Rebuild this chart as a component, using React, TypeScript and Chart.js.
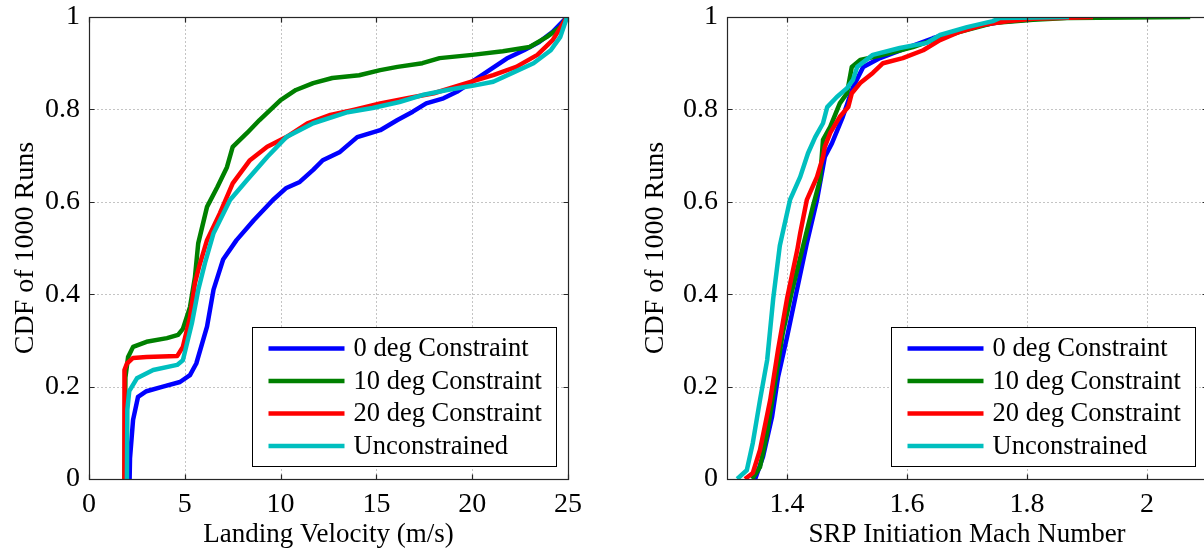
import React, { useEffect, useRef } from "react";
import { Chart, registerables } from "chart.js";

Chart.register(...registerables);

const FONT = "'Liberation Serif', 'Times New Roman', serif";

// ---------------- Series meta ----------------
const seriesLabels = ["0 deg Constraint", "10 deg Constraint", "20 deg Constraint", "Unconstrained"];
const seriesColors = ["#0000ff", "#008000", "#ff0000", "#00bfbf"];

const velTicks = [0, 5, 10, 15, 20, 25];
const machTicks = [1.4, 1.6, 1.8, 2.0];
const cdfTicks = [0, 0.2, 0.4, 0.6, 0.8, 1];

// ---------------- Data: Landing velocity CDF ----------------
const vel0X = [2.12, 2.14, 2.3, 2.56, 3.0, 3.86, 4.75, 5.27, 5.6, 6.16, 6.5, 7.0, 7.7, 8.6, 9.6, 10.3, 11.0, 11.7, 12.2, 13.1, 14.0, 15.2, 16.1, 16.9, 17.6, 18.5, 19.2, 20.0, 20.9, 21.8, 22.7, 23.5, 24.2, 24.95];
const vel0Y = [0, 0.045, 0.128, 0.178, 0.19, 0.2, 0.21, 0.225, 0.25, 0.33, 0.41, 0.475, 0.517, 0.56, 0.604, 0.63, 0.643, 0.669, 0.69, 0.708, 0.74, 0.755, 0.777, 0.795, 0.813, 0.824, 0.838, 0.86, 0.885, 0.91, 0.928, 0.946, 0.968, 1.0];

const vel10X = [1.85, 1.9, 2.04, 2.3, 3.0, 4.07, 4.65, 4.9, 5.27, 5.53, 5.7, 6.16, 6.7, 7.2, 7.5, 8.25, 8.9, 10.0, 10.8, 11.7, 12.7, 14.1, 15.2, 16.1, 17.4, 18.3, 20.0, 21.6, 23.0, 23.9, 24.6, 24.95];
const vel10Y = [0, 0.22, 0.264, 0.286, 0.297, 0.305, 0.312, 0.325, 0.372, 0.437, 0.51, 0.589, 0.632, 0.675, 0.719, 0.749, 0.777, 0.82, 0.842, 0.857, 0.868, 0.874, 0.885, 0.892, 0.9, 0.911, 0.918, 0.926, 0.935, 0.957, 0.978, 1.0];

const vel20X = [1.83, 1.85, 1.98, 2.3, 3.0, 4.6, 4.9, 5.27, 5.53, 5.75, 6.16, 6.84, 7.5, 8.4, 9.3, 10.3, 11.4, 12.6, 13.8, 15.2, 16.6, 18.0, 19.7, 21.1, 22.3, 23.4, 24.2, 24.95];
const vel20Y = [0, 0.236, 0.25, 0.262, 0.264, 0.266, 0.286, 0.35, 0.424, 0.46, 0.517, 0.576, 0.64, 0.69, 0.719, 0.74, 0.77, 0.788, 0.799, 0.813, 0.824, 0.835, 0.857, 0.874, 0.892, 0.918, 0.95, 1.0];

const velUncX = [1.98, 2.0, 2.1, 2.5, 3.35, 4.6, 4.9, 5.37, 5.7, 6.05, 6.5, 7.36, 8.25, 9.3, 10.3, 11.7, 13.5, 14.8, 16.2, 17.4, 18.7, 20.0, 21.1, 22.1, 23.2, 24.1, 24.6, 24.95];
const velUncY = [0, 0.15, 0.19, 0.218, 0.236, 0.247, 0.257, 0.337, 0.409, 0.467, 0.532, 0.604, 0.647, 0.697, 0.74, 0.77, 0.794, 0.803, 0.816, 0.831, 0.842, 0.851, 0.86, 0.879, 0.9, 0.928, 0.957, 1.0];

// ---------------- Data: SRP initiation Mach CDF ----------------
const mach0X = [1.347, 1.36, 1.375, 1.385, 1.4, 1.415, 1.433, 1.45, 1.463, 1.475, 1.493, 1.51, 1.527, 1.555, 1.6, 1.643, 1.7, 1.755, 1.833, 1.87];
const mach0Y = [0, 0.048, 0.134, 0.22, 0.307, 0.4, 0.51, 0.604, 0.697, 0.727, 0.784, 0.848, 0.892, 0.911, 0.933, 0.954, 0.976, 0.989, 0.998, 1.0];

const mach10X = [1.342, 1.355, 1.367, 1.38, 1.393, 1.408, 1.426, 1.443, 1.455, 1.46, 1.472, 1.488, 1.5, 1.508, 1.522, 1.56, 1.61, 1.643, 1.688, 1.743, 1.81, 1.867, 2.072];
const mach10Y = [0, 0.026, 0.1, 0.208, 0.316, 0.405, 0.5, 0.589, 0.647, 0.734, 0.762, 0.813, 0.835, 0.892, 0.907, 0.918, 0.935, 0.95, 0.968, 0.987, 0.994, 0.998, 1.0];

const mach20X = [1.33, 1.343, 1.355, 1.372, 1.385, 1.4, 1.417, 1.422, 1.433, 1.45, 1.46, 1.463, 1.472, 1.488, 1.502, 1.508, 1.522, 1.543, 1.56, 1.593, 1.627, 1.655, 1.688, 1.727, 1.767, 1.81, 1.91];
const mach20Y = [0, 0.013, 0.063, 0.171, 0.279, 0.39, 0.495, 0.532, 0.604, 0.654, 0.697, 0.719, 0.749, 0.784, 0.805, 0.835, 0.857, 0.879, 0.9, 0.911, 0.928, 0.95, 0.968, 0.983, 0.991, 0.996, 1.0];

const machUncX = [1.317, 1.333, 1.343, 1.355, 1.367, 1.377, 1.388, 1.405, 1.422, 1.435, 1.447, 1.46, 1.467, 1.483, 1.5, 1.51, 1.517, 1.543, 1.588, 1.633, 1.655, 1.7, 1.743, 1.755, 1.87];
const machUncY = [0, 0.019, 0.078, 0.171, 0.258, 0.39, 0.505, 0.604, 0.654, 0.705, 0.74, 0.77, 0.805, 0.827, 0.846, 0.864, 0.892, 0.918, 0.933, 0.944, 0.961, 0.978, 0.991, 0.998, 1.0];

const fmt = (v: number) => String(Number(Number(v).toFixed(2)));

const boxPlugin = {
  id: "matlabBox",
  beforeDatasetsDraw(chart: any) {
    const { ctx, chartArea: a, scales } = chart;
    ctx.save();
    ctx.strokeStyle = "#c4c4c4";
    ctx.lineWidth = 1;
    ctx.setLineDash([2, 2]);
    for (const t of scales.x.ticks) {
      const px = Math.round(scales.x.getPixelForValue(t.value)) + 0.5;
      if (px - a.left < 2 || a.right - px < 2) continue;
      ctx.beginPath();
      ctx.moveTo(px, a.top);
      ctx.lineTo(px, a.bottom);
      ctx.stroke();
    }
    for (const t of scales.y.ticks) {
      const py = Math.round(scales.y.getPixelForValue(t.value)) + 0.5;
      if (py - a.top < 2 || a.bottom - py < 2) continue;
      ctx.beginPath();
      ctx.moveTo(a.left, py);
      ctx.lineTo(a.right, py);
      ctx.stroke();
    }
    ctx.restore();
  },
  afterDatasetsDraw(chart: any) {
    const { ctx, chartArea: a, scales } = chart;
    ctx.save();
    ctx.setLineDash([]);
    ctx.strokeStyle = "#262626";
    ctx.lineWidth = 1.2;
    const L = Math.round(a.left) + 0.5;
    const R = Math.round(a.right) + 0.5;
    const T = Math.round(a.top) + 0.5;
    const B = Math.round(a.bottom) + 0.5;
    ctx.strokeRect(L, T, R - L, B - T);
    const tl = 5;
    ctx.beginPath();
    for (const t of scales.x.ticks) {
      const px = Math.round(scales.x.getPixelForValue(t.value)) + 0.5;
      ctx.moveTo(px, B);
      ctx.lineTo(px, B - tl);
      ctx.moveTo(px, T);
      ctx.lineTo(px, T + tl);
    }
    for (const t of scales.y.ticks) {
      const py = Math.round(scales.y.getPixelForValue(t.value)) + 0.5;
      ctx.moveTo(L, py);
      ctx.lineTo(L + tl, py);
      ctx.moveTo(R, py);
      ctx.lineTo(R - tl, py);
    }
    ctx.stroke();

    // legend box in the lower right corner
    const w = 304;
    const h = 139;
    const bx = Math.round(a.right - 12 - w) + 0.5;
    const by = Math.round(a.bottom - 13 - h) + 0.5;
    ctx.fillStyle = "#ffffff";
    ctx.fillRect(bx, by, w, h);
    ctx.strokeStyle = "#000000";
    ctx.lineWidth = 1;
    ctx.strokeRect(bx, by, w, h);
    const rows = [21, 53.5, 86, 118.5];
    ctx.font = `26.5px ${FONT}`;
    ctx.textBaseline = "middle";
    ctx.textAlign = "left";
    chart.data.datasets.forEach((ds: any, i: number) => {
      const y = by + rows[i];
      ctx.strokeStyle = ds.borderColor;
      ctx.lineWidth = 4.5;
      ctx.beginPath();
      ctx.moveTo(bx + 16, y);
      ctx.lineTo(bx + 92, y);
      ctx.stroke();
      ctx.fillStyle = "#000000";
      ctx.fillText(ds.label, bx + 101, y + 1);
    });
    ctx.restore();
  },
};

type Series = { xs: number[]; ys: number[] };

function CdfChart(props: {
  width: number;
  height: number;
  xMin: number;
  xMax: number;
  xTicks: number[];
  xTitle: string;
  yAxisWidth: number;
  padRight: number;
  series: Series[];
}) {
  const ref = useRef<HTMLCanvasElement | null>(null);
  useEffect(() => {
    if (!ref.current) return;
    const tickFont = { family: FONT, size: 28 };
    const n = props.series.length;
    const chart = new Chart(ref.current, {
      type: "line",
      data: {
        datasets: props.series.map((s, i) => ({
          label: seriesLabels[i],
          data: s.xs.map((x, j) => ({ x, y: s.ys[j] })),
          borderColor: seriesColors[i],
          backgroundColor: seriesColors[i],
          borderWidth: 4.5,
          pointRadius: 0,
          tension: 0,
          fill: false,
          order: n - i,
          borderJoinStyle: "round",
        })),
      },
      options: {
        responsive: false,
        animation: false,
        devicePixelRatio: 1,
        layout: { padding: { left: 0, right: props.padRight, top: 17, bottom: 0 } },
        plugins: { legend: { display: false }, tooltip: { enabled: false } },
        scales: {
          x: {
            type: "linear",
            min: props.xMin,
            max: props.xMax,
            afterBuildTicks: (s: any) => {
              s.ticks = props.xTicks.map((v) => ({ value: v }));
            },
            ticks: { font: tickFont, color: "#000", padding: 9, maxRotation: 0, autoSkip: false, callback: (v: any) => fmt(v) },
            grid: { display: false, drawTicks: false },
            border: { display: false },
            title: {
              display: true,
              text: props.xTitle,
              font: { family: FONT, size: 27, lineHeight: 1 },
              color: "#000",
              padding: { top: 0, bottom: 2 },
            },
            afterFit: (s: any) => {
              s.height = 71;
              s.paddingLeft = 0;
              s.paddingRight = 0;
            },
          },
          y: {
            type: "linear",
            min: 0,
            max: 1,
            afterBuildTicks: (s: any) => {
              s.ticks = cdfTicks.map((v) => ({ value: v }));
            },
            ticks: { font: tickFont, color: "#000", padding: 9, autoSkip: false, callback: (v: any) => fmt(v) },
            grid: { display: false, drawTicks: false },
            border: { display: false },
            title: {
              display: true,
              text: "CDF of 1000 Runs",
              font: { family: FONT, size: 28, lineHeight: 1 },
              color: "#000",
              padding: { top: 12, bottom: 0 },
            },
            afterFit: (s: any) => {
              s.width = props.yAxisWidth;
              s.paddingTop = 0;
              s.paddingBottom = 0;
            },
          },
        },
      },
      plugins: [boxPlugin],
    } as any);
    return () => chart.destroy();
  }, []);
  return (
    <canvas
      ref={ref}
      width={props.width}
      height={props.height}
      style={{ display: "block", width: props.width, height: props.height }}
    />
  );
}

export default function App() {
  return (
    <div
      style={{
        position: "absolute",
        left: 0,
        top: 0,
        width: 1204,
        height: 550,
        overflow: "hidden",
        background: "#ffffff",
      }}
    >
      <div style={{ position: "absolute", left: 0, top: 0 }}>
        <CdfChart
          width={610}
          height={550}
          xMin={0}
          xMax={25}
          xTicks={velTicks}
          xTitle="Landing Velocity (m/s)"
          yAxisWidth={89}
          padRight={42}
          series={[
            { xs: vel0X, ys: vel0Y },
            { xs: vel10X, ys: vel10Y },
            { xs: vel20X, ys: vel20Y },
            { xs: velUncX, ys: velUncY },
          ]}
        />
      </div>
      <div style={{ position: "absolute", left: 630, top: 0 }}>
        <CdfChart
          width={590}
          height={550}
          xMin={1.3}
          xMax={2.1}
          xTicks={machTicks}
          xTitle="SRP Initiation Mach Number"
          yAxisWidth={97}
          padRight={13}
          series={[
            { xs: mach0X, ys: mach0Y },
            { xs: mach10X, ys: mach10Y },
            { xs: mach20X, ys: mach20Y },
            { xs: machUncX, ys: machUncY },
          ]}
        />
      </div>
    </div>
  );
}
